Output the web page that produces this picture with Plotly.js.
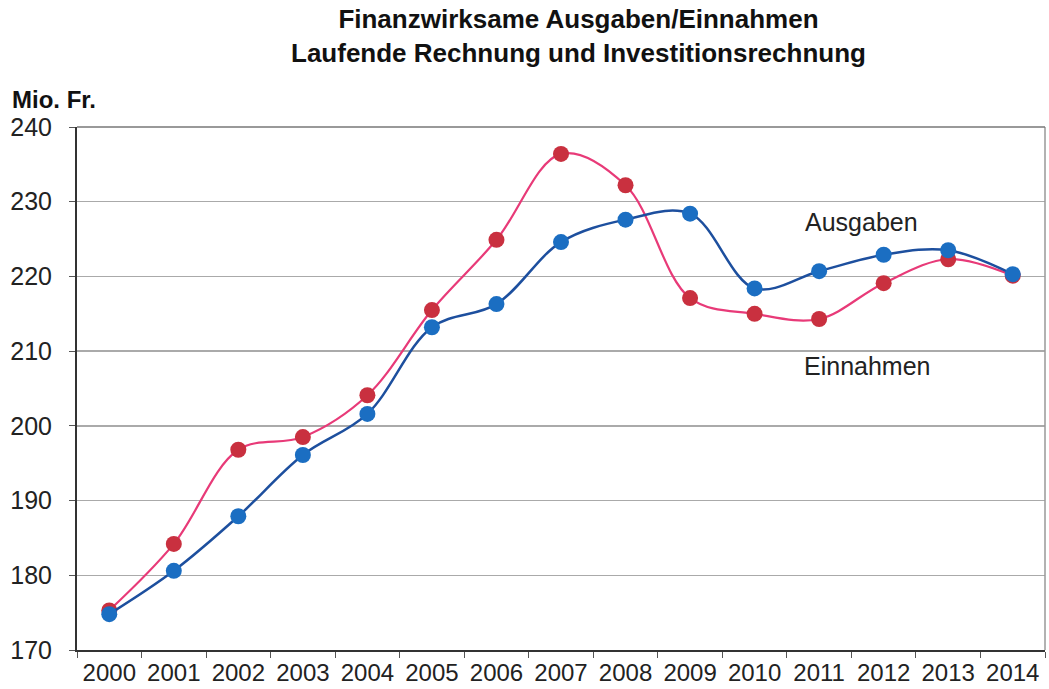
<!DOCTYPE html>
<html>
<head>
<meta charset="utf-8">
<script src="https://cdn.plot.ly/plotly-3.0.1.min.js"></script>
<style>html,body{margin:0;padding:0;background:#fff;}#chart{width:1049px;height:689px;}</style>
</head>
<body>
<div id="chart"></div>
<script>
const years = ['2000','2001','2002','2003','2004','2005','2006','2007','2008','2009','2010','2011','2012','2013','2014'];
const ausgaben = [174.8, 180.6, 187.9, 196.1, 201.6, 213.2, 216.3, 224.6, 227.6, 228.4, 218.4, 220.7, 222.9, 223.5, 220.3];
const einnahmen = [175.3, 184.2, 196.8, 198.5, 204.1, 215.5, 224.9, 236.4, 232.2, 217.1, 215.0, 214.3, 219.1, 222.3, 220.1];
const yTicks = [170, 180, 190, 200, 210, 220, 230, 240];

const font = 'Liberation Sans, Arial, sans-serif';
const traces = [
  {x: years, y: einnahmen, name: 'Einnahmen', type: 'scatter', mode: 'lines+markers',
   line: {shape: 'spline', smoothing: 1, color: '#e83a78', width: 2.2},
   marker: {size: 16, color: '#c9303f'}},
  {x: years, y: ausgaben, name: 'Ausgaben', type: 'scatter', mode: 'lines+markers',
   line: {shape: 'spline', smoothing: 1, color: '#1d4f9e', width: 2.5},
   marker: {size: 16, color: '#1b6ec2'}}
];
const layout = {
  width: 1049, height: 689,
  margin: {l: 77, r: 4, t: 127, b: 39},
  paper_bgcolor: '#fff', plot_bgcolor: '#fff',
  showlegend: false,
  font: {family: font, color: '#222'},
  xaxis: {type: 'category', tickson: 'boundaries', ticks: 'outside', ticklen: 6, tickcolor: '#555',
          showgrid: false, showline: true, linecolor: '#333', linewidth: 2,
          tickfont: {size: 24, color: '#222'}, fixedrange: true, range: [-0.5, 14.5]},
  yaxis: {range: [170, 240], tickvals: yTicks, showgrid: true, gridcolor: '#aaa', gridwidth: 1.5,
          showline: true, linecolor: '#333', linewidth: 2, zeroline: false,
          ticks: 'outside', ticklen: 6, tickcolor: '#555', ticklabelstandoff: 12,
          tickfont: {size: 25, color: '#222'}, fixedrange: true},
  shapes: [
    {type: 'line', xref: 'paper', yref: 'paper', x0: 1, x1: 1, y0: 0, y1: 1, line: {color: '#999', width: 1.5}},
    {type: 'line', xref: 'paper', yref: 'paper', x0: 0, x1: 1, y0: 1, y1: 1, line: {color: '#777', width: 1.5}}
  ],
  annotations: [
    {text: '<b>Finanzwirksame Ausgaben/Einnahmen<br>Laufende Rechnung und Investitionsrechnung</b>',
     xref: 'paper', yref: 'paper', x: (578-77)/968, y: 1, yshift: 91, xanchor: 'center', yanchor: 'middle',
     showarrow: false, font: {size: 26, color: '#111', family: font}},
    {text: '<b>Mio. Fr.</b>', xref: 'paper', yref: 'paper', x: 0, xshift: -67, y: 1, yshift: 28,
     xanchor: 'left', yanchor: 'middle', showarrow: false, font: {size: 24, color: '#111', family: font}},
    {text: 'Ausgaben', xref: 'paper', yref: 'paper', x: (861-77)/968, y: (650-222)/523,
     xanchor: 'center', yanchor: 'middle', showarrow: false, font: {size: 25, color: '#222', family: font}},
    {text: 'Einnahmen', xref: 'paper', yref: 'paper', x: (867-77)/968, y: (650-366)/523,
     xanchor: 'center', yanchor: 'middle', showarrow: false, font: {size: 25, color: '#222', family: font}}
  ]
};
Plotly.newPlot('chart', traces, layout, {displayModeBar: false, staticPlot: true});
</script>
</body>
</html>
